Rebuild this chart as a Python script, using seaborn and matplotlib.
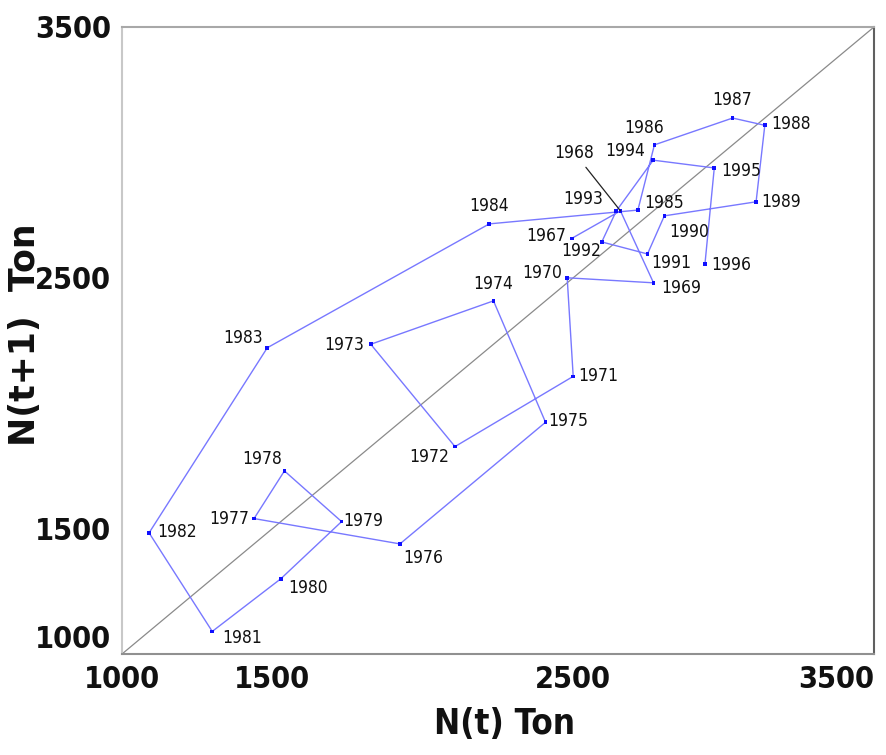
import numpy as np
import pandas as pd
import matplotlib
matplotlib.use('Agg')
import matplotlib.pyplot as plt
from matplotlib import font_manager as fm
import seaborn as sns

# --- DATA: yearly stock N(t) in tons, 1967-1997 ---
years = list(range(1967, 1998))
stock = [2495, 2657, 2767, 2480, 2500, 2107, 1827, 2235, 2408, 1924,
         1439, 1540, 1730, 1528, 1300, 1090, 1483, 2221, 2715, 2770,
         3030, 3137, 3108, 2803, 2747, 2595, 2643, 2766, 2969, 2938, 2555]

tick_vals = [1000, 1500, 2000, 2500, 3000, 3500]
tick_text = ['1000', '1500', '', '2500', '', '3500']

# phase plot: N(t) against N(t+1)
df = pd.DataFrame({'year': years[:-1], 'nt': stock[:-1], 'nt1': stock[1:]})

# label placement (offset in pixels, alignment)
label_pos = {
    1967: (-5, 2, 'right'), 1969: (8, -5, 'left'), 1970: (-5, 5, 'right'),
    1971: (5, 0, 'left'), 1972: (-6, -10, 'right'), 1973: (-7, -1, 'right'),
    1974: (0, 17, 'center'), 1975: (3, 1, 'left'), 1976: (3, -14, 'left'),
    1977: (-5, 0, 'right'), 1978: (-2, 12, 'right'), 1979: (2, 1, 'left'),
    1980: (7, -9, 'left'), 1981: (10, -7, 'left'), 1982: (8, 1, 'left'),
    1983: (-4, 10, 'right'), 1984: (0, 18, 'center'), 1985: (6, 7, 'left'),
    1986: (-10, 17, 'center'), 1987: (0, 18, 'center'), 1988: (6, 1, 'left'),
    1989: (5, 0, 'left'), 1990: (5, -16, 'left'), 1991: (4, -9, 'left'),
    1992: (-1, -9, 'right'), 1993: (-13, 12, 'right'), 1994: (-8, 9, 'right'),
    1995: (7, -3, 'left'), 1996: (6, -1, 'left'),
}


# --- cari font sempit (narrow / condensed) kalau ada ---
def weight_num(w):
    if isinstance(w, (int, float)):
        return w
    return {'normal': 400, 'regular': 400, 'book': 400, 'medium': 500,
            'semibold': 600, 'demibold': 600, 'bold': 700}.get(str(w).lower(), 400)


def find_narrow(target):
    best, best_d = None, None
    for f in fm.fontManager.ttflist:
        st = f.stretch
        narrow = ('Narrow' in f.name or 'Condensed' in f.name or
                  st in ('condensed', 'semi-condensed', 'extra-condensed',
                         'ultra-condensed') or
                  (isinstance(st, (int, float)) and st < 500))
        if not narrow or f.style != 'normal':
            continue
        if 'Serif' in f.name or 'Mono' in f.name:
            continue
        d = abs(weight_num(f.weight) - target)
        if best is None or d < best_d:
            best, best_d = f, d
    return best


f_reg = find_narrow(400)
f_bold = find_narrow(700)
if f_reg is not None and f_bold is not None:
    fp_reg = fm.FontProperties(fname=f_reg.fname)
    fp_bold = fm.FontProperties(fname=f_bold.fname)
    k = 1.0
else:
    fp_reg = fm.FontProperties(family='DejaVu Sans')
    fp_bold = fm.FontProperties(family='DejaVu Sans', weight='bold')
    k = 0.8

sns.set_style('white')
plt.rcParams['font.family'] = ['DejaVu Sans']

W, H = 887, 755
fig = plt.figure(figsize=(W / 100, H / 100), dpi=100)
ax = fig.add_axes([122 / W, (H - 654) / H, (874 - 122) / W, (654 - 27) / H])

# diagonal N(t+1) = N(t)
ax.plot([1000, 3500], [1000, 3500], color='#8a8a8a', lw=0.9, zorder=1)

sns.lineplot(data=df, x='nt', y='nt1', sort=False, estimator=None,
             color='#7878ff', lw=1.0, ax=ax, zorder=2)
sns.scatterplot(data=df, x='nt', y='nt1', marker='s', s=7, color='#1010ff',
                edgecolor='none', ax=ax, zorder=3)

for _, r in df.iterrows():
    yr = int(r['year'])
    if yr == 1968:
        ax.annotate('1968', (r['nt'], r['nt1']), xytext=(-46, 58),
                    textcoords='offset pixels', ha='center', va='center',
                    fontproperties=fp_reg, fontsize=12.5 * k, color='#111111',
                    arrowprops=dict(arrowstyle='-', color='#222222', lw=0.9,
                                    shrinkA=2, shrinkB=0))
        continue
    dx, dy, ha = label_pos[yr]
    ax.annotate(str(yr), (r['nt'], r['nt1']), xytext=(dx, dy),
                textcoords='offset pixels', ha=ha, va='center',
                fontproperties=fp_reg, fontsize=12.5 * k, color='#111111')

ax.set_xlim(1000, 3500)
ax.set_ylim(1000, 3500)
ax.set_xticks(tick_vals)
ax.set_xticklabels(tick_text)
ax.set_yticks(tick_vals)
ax.set_yticklabels(tick_text)
ax.tick_params(axis='both', length=4, width=1, color='#909090',
               direction='inout', pad=6)
for lab in ax.get_xticklabels() + ax.get_yticklabels():
    lab.set_fontproperties(fp_bold)
    lab.set_fontsize(22 * k)
    lab.set_color('#111111')
ax.get_xticklabels()[-1].set_horizontalalignment('right')
ax.get_yticklabels()[0].set_verticalalignment('bottom')

for side, col in [('left', '#c8c8c8'), ('top', '#a8a8a8'),
                  ('right', '#606060'), ('bottom', '#909090')]:
    ax.spines[side].set_visible(True)
    ax.spines[side].set_color(col)
    ax.spines[side].set_linewidth(1.5)

ax.set_xlabel('N(t) Ton', fontproperties=fp_bold, fontsize=25 * k,
              color='#111111')
ax.set_ylabel('N(t+1)  Ton', fontsize=25, fontweight='bold',
              family=['DejaVu Sans'], color='#111111')
ax.xaxis.set_label_coords(0.509, -0.084)
ax.yaxis.set_label_coords(-0.107, 0.509)

fig.savefig('out.png', dpi=100)
plt.close()
